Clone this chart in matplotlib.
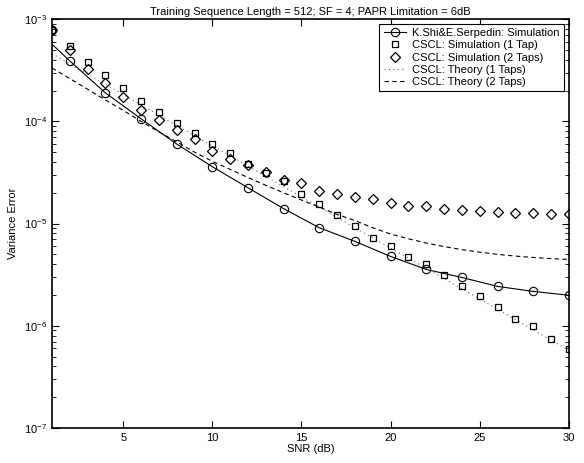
import numpy as np
import matplotlib
matplotlib.use('Agg')
import matplotlib.pyplot as plt
from matplotlib.lines import Line2D
from matplotlib.ticker import LogLocator, NullFormatter, FixedLocator

plt.rcParams['font.family'] = ['Liberation Sans', 'DejaVu Sans']
plt.rcParams['mathtext.fontset'] = 'custom'
plt.rcParams['mathtext.rm'] = 'Liberation Sans'
plt.rcParams['mathtext.it'] = 'Liberation Sans:italic'
plt.rcParams['axes.unicode_minus'] = False

# %%
# Data
snr_kshi = [1, 2, 4, 6, 8, 10, 12, 14, 16, 18, 20, 22, 24, 26, 28, 30]
var_kshi = [7.8e-4, 3.9e-4, 1.9e-4, 1.06e-4, 6.0e-5, 3.6e-5, 2.24e-5, 1.4e-5,
            9.1e-6, 6.7e-6, 4.77e-6, 3.56e-6, 2.97e-6, 2.43e-6, 2.17e-6, 1.99e-6]
# solid line does not start at the first marker
line_kshi = [5.7e-4, 3.9e-4, 1.9e-4, 1.06e-4, 6.0e-5, 3.6e-5, 2.24e-5, 1.4e-5,
             9.1e-6, 6.7e-6, 4.77e-6, 3.56e-6, 2.97e-6, 2.43e-6, 2.17e-6, 1.99e-6]

snr = list(range(1, 31))
var_sim1 = [7.8e-4, 5.46e-4, 3.8e-4, 2.85e-4, 2.12e-4, 1.58e-4, 1.24e-4, 9.7e-5,
            7.7e-5, 5.97e-5, 4.93e-5, 3.85e-5, 3.15e-5, 2.63e-5, 1.96e-5, 1.57e-5,
            1.2e-5, 9.55e-6, 7.3e-6, 6.1e-6, 4.66e-6, 3.98e-6, 3.11e-6, 2.43e-6,
            1.94e-6, 1.51e-6, 1.16e-6, 9.9e-7, 7.4e-7, 5.9e-7]
var_sim2 = [7.8e-4, 4.99e-4, 3.25e-4, 2.38e-4, 1.73e-4, 1.29e-4, 1.03e-4, 8.27e-5,
            6.75e-5, 5.15e-5, 4.3e-5, 3.76e-5, 3.22e-5, 2.69e-5, 2.51e-5, 2.1e-5,
            1.96e-5, 1.83e-5, 1.75e-5, 1.6e-5, 1.5e-5, 1.47e-5, 1.4e-5, 1.37e-5,
            1.34e-5, 1.31e-5, 1.28e-5, 1.28e-5, 1.25e-5, 1.25e-5]
var_th1 = [4.6e-4, 3.65e-4, 2.9e-4, 2.3e-4, 1.83e-4, 1.45e-4, 1.15e-4, 9.1e-5,
           7.25e-5, 5.75e-5, 4.6e-5, 3.65e-5, 2.9e-5, 2.3e-5, 1.83e-5, 1.45e-5,
           1.15e-5, 9.1e-6, 7.25e-6, 5.75e-6, 4.6e-6, 3.65e-6, 2.9e-6, 2.3e-6,
           1.83e-6, 1.45e-6, 1.15e-6, 9.1e-7, 7.25e-7, 5.75e-7]
var_th2 = [3.33e-4, 2.62e-4, 2.06e-4, 1.62e-4, 1.28e-4, 1.0e-4, 7.9e-5, 6.3e-5,
           5.0e-5, 4.07e-5, 3.39e-5, 2.82e-5, 2.37e-5, 2.0e-5, 1.7e-5, 1.45e-5,
           1.23e-5, 1.07e-5, 9.1e-6, 7.9e-6, 7.1e-6, 6.45e-6, 5.96e-6, 5.56e-6,
           5.25e-6, 5.0e-6, 4.81e-6, 4.66e-6, 4.54e-6, 4.46e-6]

x_ticks = [5, 10, 15, 20, 25, 30]

# %%
fig = plt.figure(figsize=(5.84, 4.63), dpi=100)
ax = fig.add_axes([0.089, 0.0756, 0.885, 0.883])

ax.plot(snr, var_th1, linestyle=(0, (1, 3)), color='0.4', linewidth=0.8)
ax.plot(snr, var_th2, linestyle=(0, (4, 3)), color='k', linewidth=0.8)
ax.plot(snr_kshi, line_kshi, '-', color='k', linewidth=0.8)
ax.plot(snr_kshi, var_kshi, 'o', mfc='none', mec='k', ms=6, mew=0.8)
ax.plot(snr, var_sim1, 's', mfc='none', mec='k', ms=5, mew=0.9)
ax.plot(snr, var_sim2, 'D', mfc='none', mec='k', ms=5, mew=0.9)

ax.set_yscale('log')
ax.set_xlim(1, 30)
ax.set_ylim(1e-7, 1e-3)
ax.xaxis.set_major_locator(FixedLocator(x_ticks))
ax.yaxis.set_major_locator(LogLocator(base=10, numticks=10))
ax.yaxis.set_minor_locator(LogLocator(base=10, subs=np.arange(2, 10), numticks=10))
ax.yaxis.set_minor_formatter(NullFormatter())
ax.tick_params(which='both', direction='in', top=True, right=True, labelsize=8)
ax.tick_params(which='major', length=5, width=0.8)
ax.tick_params(which='minor', length=3, width=0.6)
for s in ax.spines.values():
    s.set_linewidth(1.2)

ax.set_title("Training Sequence Length = 512; SF = 4; PAPR Limitation = 6dB",
             fontsize=8, pad=3)
ax.set_xlabel("SNR (dB)", fontsize=8, labelpad=1)
ax.set_ylabel("Variance Error", fontsize=8, labelpad=4)

handles = [
    Line2D([], [], color='k', linewidth=0.8, marker='o', mfc='none', ms=6, mew=0.8),
    Line2D([], [], linestyle='none', color='k', marker='s', mfc='none', ms=5, mew=0.9),
    Line2D([], [], linestyle='none', color='k', marker='D', mfc='none', ms=5, mew=0.9),
    Line2D([], [], linestyle=(0, (1, 3)), color='0.4', linewidth=0.8),
    Line2D([], [], linestyle=(0, (4, 3)), color='k', linewidth=0.8),
]
labels = ["K.Shi&E.Serpedin: Simulation", "CSCL: Simulation (1 Tap)",
          "CSCL: Simulation (2 Taps)", "CSCL: Theory (1 Taps)",
          "CSCL: Theory (2 Taps)"]
leg = ax.legend(handles, labels, loc='upper right', fontsize=8, fancybox=False,
                framealpha=1, edgecolor='k', borderpad=0.4, labelspacing=0.2,
                handlelength=2.0, handletextpad=0.6, borderaxespad=0.4)
leg.get_frame().set_linewidth(0.8)

plt.savefig("out.png", dpi=100)
